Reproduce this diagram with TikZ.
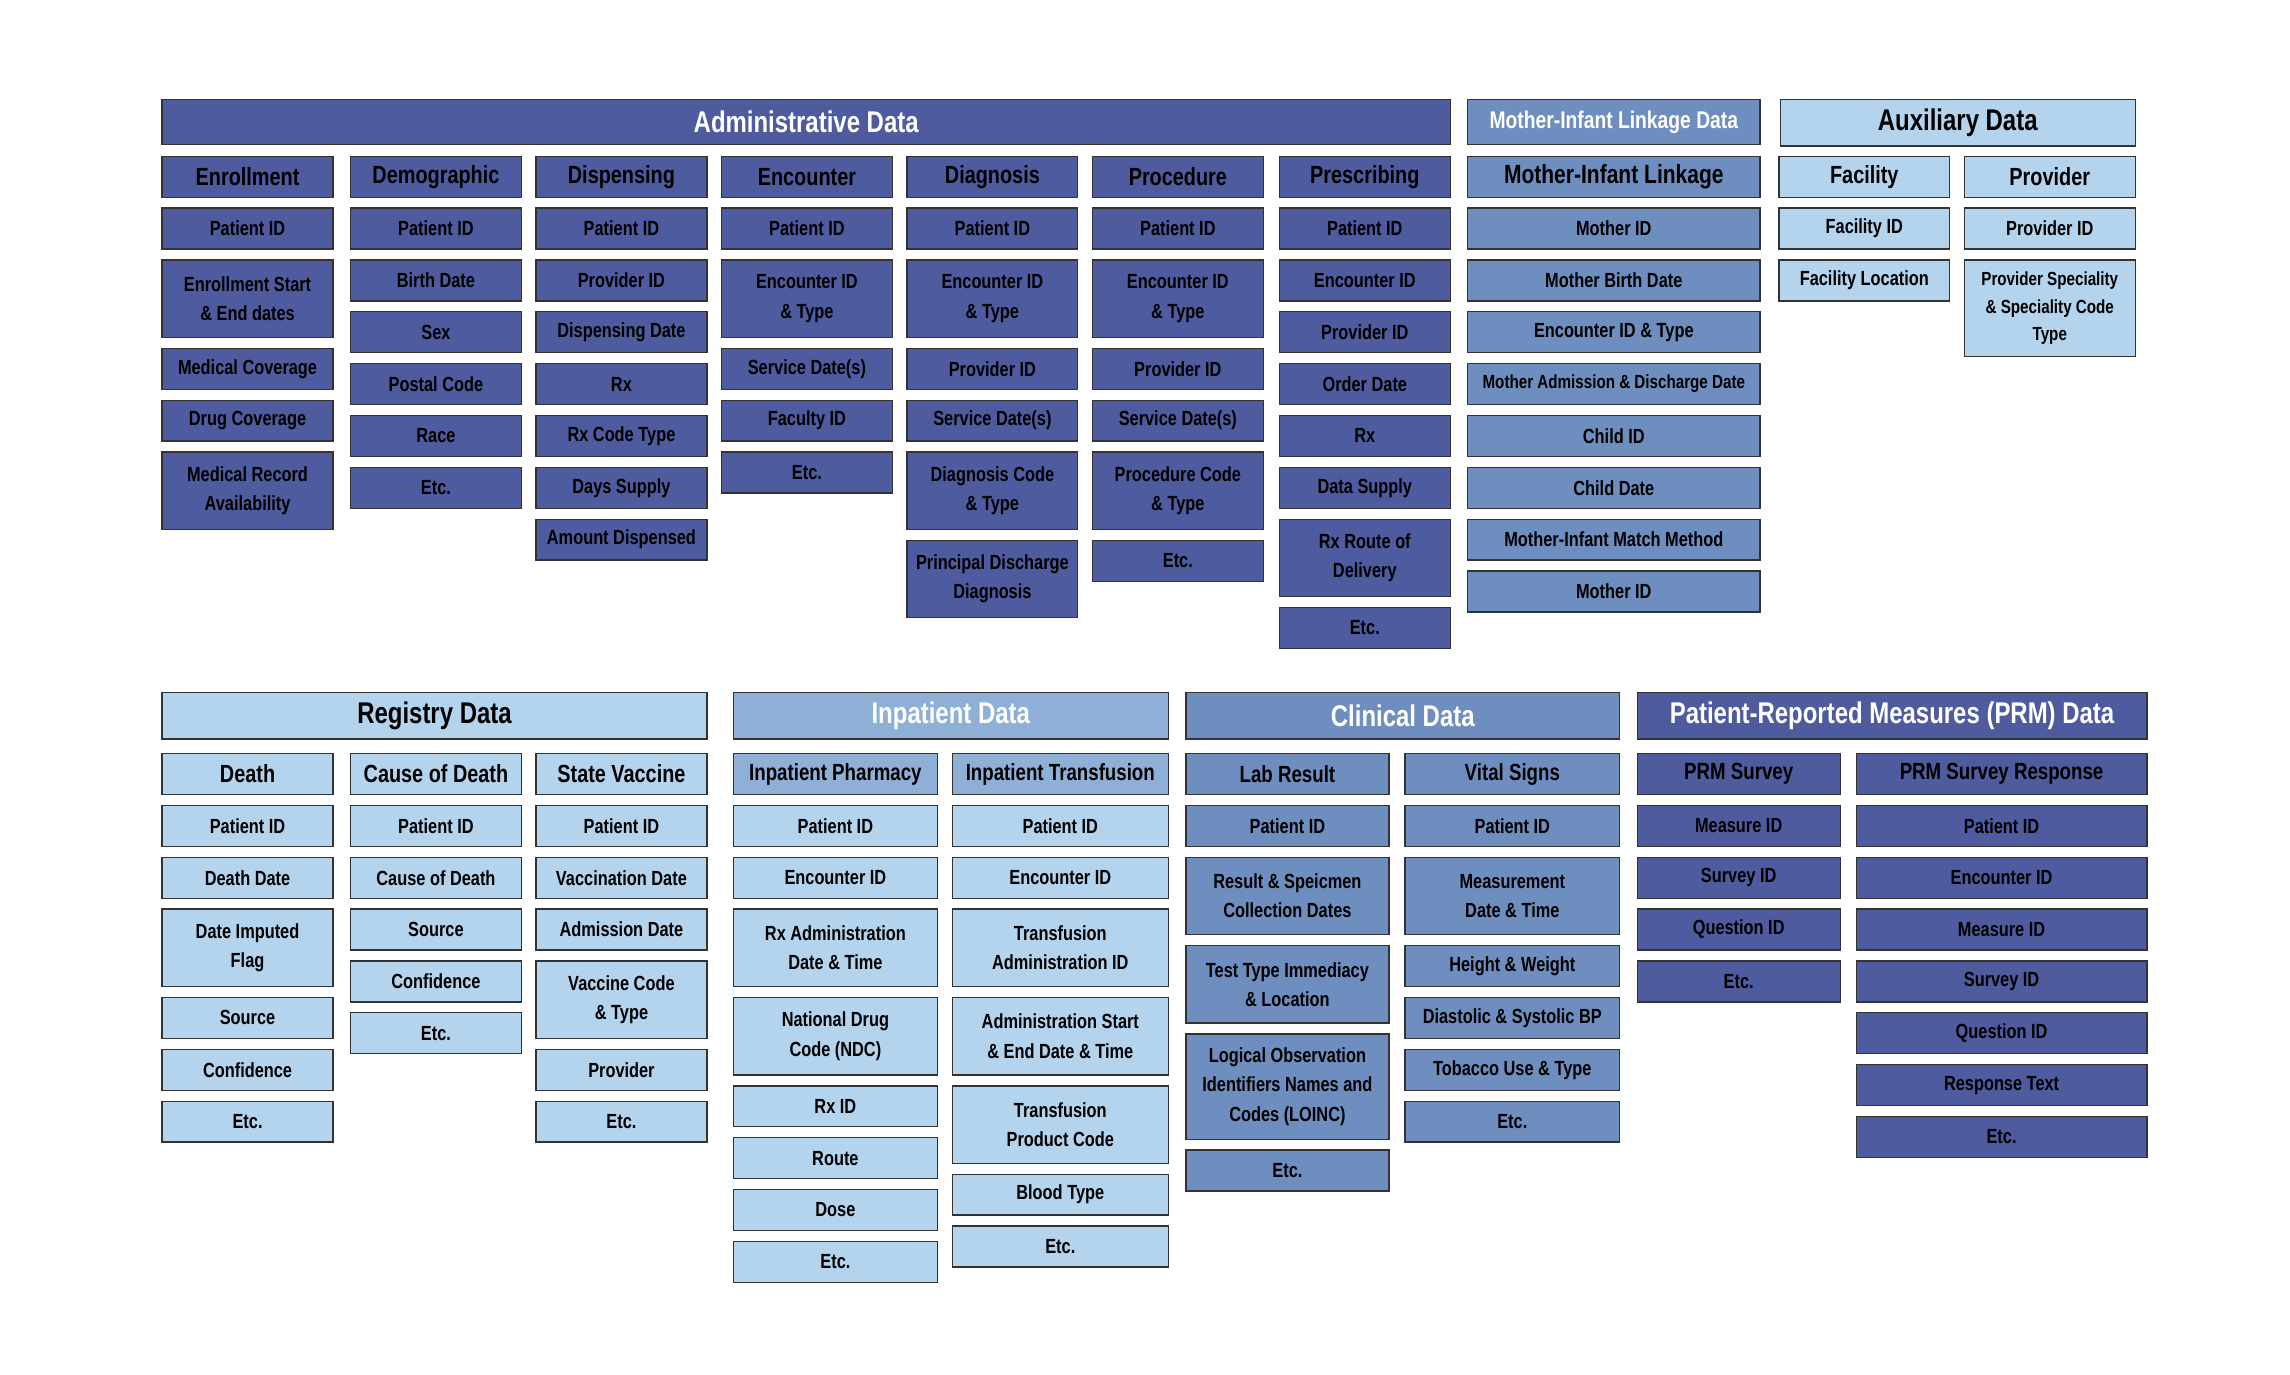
\documentclass[tikz,border=0pt]{standalone}
\usepackage{fontspec}
\newfontfamily\condfont{Liberation Sans}[FakeStretch=0.8]
\usetikzlibrary{positioning}
\usepackage{xcolor}
\definecolor{admblue}{HTML}{4E5B9E}
\definecolor{midblue}{HTML}{6F8EC0}
\definecolor{inpblue}{HTML}{8EB0D7}
\definecolor{ltblue}{HTML}{B4D4EE}

\begin{document}
\begin{tikzpicture}[
    x=1pt, y=-1pt,
    node distance=7.5pt,
    box/.style={draw=black!80, line width=0.9pt, inner sep=0pt, outer sep=0pt,
                minimum height=28pt, align=center, text=black,
                font=\condfont\bfseries\fontsize{14}{20}\selectfont},
    two/.style={minimum height=53pt},
    small/.style={font=\condfont\bfseries\fontsize{13}{19}\selectfont},
    head/.style={box, anchor=north west,
                 font=\condfont\bfseries\fontsize{17}{20}\selectfont},
    subhead/.style={head, font=\condfont\bfseries\fontsize{16}{20}\selectfont},
    bar/.style={box, anchor=north west, minimum height=31pt,
                font=\condfont\bfseries\fontsize{20.5}{24}\selectfont},
    adm/.style={fill=admblue, minimum width=117pt},
    mil/.style={fill=midblue, minimum width=200pt},
    aux/.style={fill=ltblue, minimum width=117pt},
    reg/.style={fill=ltblue, minimum width=117pt}
  ]
  \fill[white] (0,0) rectangle (1568,941);
  \useasboundingbox (0,0) rectangle (1568,941);

  % top banners
  \node (admin) [bar, fill=admblue, text=white, minimum width=882pt] at (111,68) {Administrative Data};
  \node (mild)  [bar, fill=midblue, text=white, minimum width=200pt,
                 font=\condfont\bfseries\fontsize{16.5}{20}\selectfont] at (1005,68) {Mother-Infant Linkage Data};
  \node (auxd)  [bar, fill=ltblue, minimum width=243pt, minimum height=32pt] at (1219,68) {Auxiliary Data};

  % administrative data
  \node (enr)  [head, adm] at (111,107) {Enrollment};
  \node (enr1) [box, adm, below=of enr]       {Patient ID};
  \node (enr2) [box, adm, two, below=of enr1] {Enrollment Start\\\& End dates};
  \node (enr3) [box, adm, below=of enr2]      {Medical Coverage};
  \node (enr4) [box, adm, below=of enr3]      {Drug Coverage};
  \node (enr5) [box, adm, two, below=of enr4] {Medical Record\\Availability};

  \node (dem)  [head, adm] at (240,107) {Demographic};
  \node (dem1) [box, adm, below=of dem]  {Patient ID};
  \node (dem2) [box, adm, below=of dem1] {Birth Date};
  \node (dem3) [box, adm, below=of dem2] {Sex};
  \node (dem4) [box, adm, below=of dem3] {Postal Code};
  \node (dem5) [box, adm, below=of dem4] {Race};
  \node (dem6) [box, adm, below=of dem5] {Etc.};

  \node (dsp)  [head, adm] at (367,107) {Dispensing};
  \node (dsp1) [box, adm, below=of dsp]  {Patient ID};
  \node (dsp2) [box, adm, below=of dsp1] {Provider ID};
  \node (dsp3) [box, adm, below=of dsp2] {Dispensing Date};
  \node (dsp4) [box, adm, below=of dsp3] {Rx};
  \node (dsp5) [box, adm, below=of dsp4] {Rx Code Type};
  \node (dsp6) [box, adm, below=of dsp5] {Days Supply};
  \node (dsp7) [box, adm, below=of dsp6] {Amount Dispensed};

  \node (enc)  [head, adm] at (494,107) {Encounter};
  \node (enc1) [box, adm, below=of enc]       {Patient ID};
  \node (enc2) [box, adm, two, below=of enc1] {Encounter ID\\\& Type};
  \node (enc3) [box, adm, below=of enc2]      {Service Date(s)};
  \node (enc4) [box, adm, below=of enc3]      {Faculty ID};
  \node (enc5) [box, adm, below=of enc4]      {Etc.};

  \node (dia)  [head, adm] at (621,107) {Diagnosis};
  \node (dia1) [box, adm, below=of dia]       {Patient ID};
  \node (dia2) [box, adm, two, below=of dia1] {Encounter ID\\\& Type};
  \node (dia3) [box, adm, below=of dia2]      {Provider ID};
  \node (dia4) [box, adm, below=of dia3]      {Service Date(s)};
  \node (dia5) [box, adm, two, below=of dia4] {Diagnosis Code\\\& Type};
  \node (dia6) [box, adm, two, below=of dia5] {Principal Discharge\\Diagnosis};

  \node (pro)  [head, adm] at (748,107) {Procedure};
  \node (pro1) [box, adm, below=of pro]       {Patient ID};
  \node (pro2) [box, adm, two, below=of pro1] {Encounter ID\\\& Type};
  \node (pro3) [box, adm, below=of pro2]      {Provider ID};
  \node (pro4) [box, adm, below=of pro3]      {Service Date(s)};
  \node (pro5) [box, adm, two, below=of pro4] {Procedure Code\\\& Type};
  \node (pro6) [box, adm, below=of pro5]      {Etc.};

  \node (pre)  [head, adm] at (876,107) {Prescribing};
  \node (pre1) [box, adm, below=of pre]       {Patient ID};
  \node (pre2) [box, adm, below=of pre1]      {Encounter ID};
  \node (pre3) [box, adm, below=of pre2]      {Provider ID};
  \node (pre4) [box, adm, below=of pre3]      {Order Date};
  \node (pre5) [box, adm, below=of pre4]      {Rx};
  \node (pre6) [box, adm, below=of pre5]      {Data Supply};
  \node (pre7) [box, adm, two, below=of pre6] {Rx Route of\\Delivery};
  \node (pre8) [box, adm, below=of pre7]      {Etc.};

  % mother-infant linkage
  \node (mil)  [head, mil, font=\condfont\bfseries\fontsize{18}{20}\selectfont] at (1005,107) {Mother-Infant Linkage};
  \node (mil1) [box, mil, below=of mil]         {Mother ID};
  \node (mil2) [box, mil, below=of mil1]        {Mother Birth Date};
  \node (mil3) [box, mil, below=of mil2]        {Encounter ID \& Type};
  \node (mil4) [box, mil, small, below=of mil3] {Mother Admission \& Discharge Date};
  \node (mil5) [box, mil, below=of mil4]        {Child ID};
  \node (mil6) [box, mil, below=of mil5]        {Child Date};
  \node (mil7) [box, mil, below=of mil6]        {Mother-Infant Match Method};
  \node (mil8) [box, mil, below=of mil7]        {Mother ID};

  % auxiliary data
  \node (fac)  [head, aux] at (1218,107) {Facility};
  \node (fac1) [box, aux, below=of fac]  {Facility ID};
  \node (fac2) [box, aux, below=of fac1] {Facility Location};

  \node (prv)  [head, aux] at (1345,107) {Provider};
  \node (prv1) [box, aux, below=of prv]  {Provider ID};
  \node (prv2) [box, aux, small, minimum height=66pt, below=of prv1] {Provider Speciality\\\& Speciality Code\\Type};

  % registry data
  \node (regd) [bar, fill=ltblue, minimum width=373pt, minimum height=32pt] at (111,474) {Registry Data};

  \node (dth)  [head, reg] at (111,516) {Death};
  \node (dth1) [box, reg, below=of dth]       {Patient ID};
  \node (dth2) [box, reg, below=of dth1]      {Death Date};
  \node (dth3) [box, reg, two, below=of dth2] {Date Imputed\\Flag};
  \node (dth4) [box, reg, below=of dth3]      {Source};
  \node (dth5) [box, reg, below=of dth4]      {Confidence};
  \node (dth6) [box, reg, below=of dth5]      {Etc.};

  \node (cod)  [head, reg] at (240,516) {Cause of Death};
  \node (cod1) [box, reg, below=of cod]  {Patient ID};
  \node (cod2) [box, reg, below=of cod1] {Cause of Death};
  \node (cod3) [box, reg, below=of cod2] {Source};
  \node (cod4) [box, reg, below=of cod3] {Confidence};
  \node (cod5) [box, reg, below=of cod4] {Etc.};

  \node (vac)  [head, reg] at (367,516) {State Vaccine};
  \node (vac1) [box, reg, below=of vac]       {Patient ID};
  \node (vac2) [box, reg, below=of vac1]      {Vaccination Date};
  \node (vac3) [box, reg, below=of vac2]      {Admission Date};
  \node (vac4) [box, reg, two, below=of vac3] {Vaccine Code\\\& Type};
  \node (vac5) [box, reg, below=of vac4]      {Provider};
  \node (vac6) [box, reg, below=of vac5]      {Etc.};

  % inpatient data
  \node (inpd) [bar, fill=inpblue, text=white, minimum width=298pt, minimum height=32pt] at (502,474) {Inpatient Data};

  \node (iph)  [subhead, fill=inpblue, minimum width=140pt] at (502,516) {Inpatient Pharmacy};
  \node (iph1) [box, fill=ltblue, minimum width=140pt, below=of iph]       {Patient ID};
  \node (iph2) [box, fill=ltblue, minimum width=140pt, below=of iph1]      {Encounter ID};
  \node (iph3) [box, fill=ltblue, minimum width=140pt, two, below=of iph2] {Rx Administration\\Date \& Time};
  \node (iph4) [box, fill=ltblue, minimum width=140pt, two, below=of iph3] {National Drug\\Code (NDC)};
  \node (iph5) [box, fill=ltblue, minimum width=140pt, below=of iph4]      {Rx ID};
  \node (iph6) [box, fill=ltblue, minimum width=140pt, below=of iph5]      {Route};
  \node (iph7) [box, fill=ltblue, minimum width=140pt, below=of iph6]      {Dose};
  \node (iph8) [box, fill=ltblue, minimum width=140pt, below=of iph7]      {Etc.};

  \node (itr)  [subhead, fill=inpblue, minimum width=148pt] at (652,516) {Inpatient Transfusion};
  \node (itr1) [box, fill=ltblue, minimum width=148pt, below=of itr]       {Patient ID};
  \node (itr2) [box, fill=ltblue, minimum width=148pt, below=of itr1]      {Encounter ID};
  \node (itr3) [box, fill=ltblue, minimum width=148pt, two, below=of itr2] {Transfusion\\Administration ID};
  \node (itr4) [box, fill=ltblue, minimum width=148pt, two, below=of itr3] {Administration Start\\\& End Date \& Time};
  \node (itr5) [box, fill=ltblue, minimum width=148pt, two, below=of itr4] {Transfusion\\Product Code};
  \node (itr6) [box, fill=ltblue, minimum width=148pt, below=of itr5]      {Blood Type};
  \node (itr7) [box, fill=ltblue, minimum width=148pt, below=of itr6]      {Etc.};

  % clinical data
  \node (clnd) [bar, fill=midblue, text=white, minimum width=297pt, minimum height=32pt] at (812,474) {Clinical Data};

  \node (lab)  [subhead, fill=midblue, minimum width=139pt] at (812,516) {Lab Result};
  \node (lab1) [box, fill=midblue, minimum width=139pt, below=of lab]       {Patient ID};
  \node (lab2) [box, fill=midblue, minimum width=139pt, two, below=of lab1] {Result \& Speicmen\\Collection Dates};
  \node (lab3) [box, fill=midblue, minimum width=139pt, two, below=of lab2] {Test Type Immediacy\\\& Location};
  \node (lab4) [box, fill=midblue, minimum width=139pt, minimum height=72pt, below=of lab3] {Logical Observation\\Identifiers Names and\\Codes (LOINC)};
  \node (lab5) [box, fill=midblue, minimum width=139pt, below=of lab4]      {Etc.};

  \node (vit)  [subhead, fill=midblue, minimum width=147pt] at (962,516) {Vital Signs};
  \node (vit1) [box, fill=midblue, minimum width=147pt, below=of vit]       {Patient ID};
  \node (vit2) [box, fill=midblue, minimum width=147pt, two, below=of vit1] {Measurement\\Date \& Time};
  \node (vit3) [box, fill=midblue, minimum width=147pt, below=of vit2]      {Height \& Weight};
  \node (vit4) [box, fill=midblue, minimum width=147pt, below=of vit3]      {Diastolic \& Systolic BP};
  \node (vit5) [box, fill=midblue, minimum width=147pt, below=of vit4]      {Tobacco Use \& Type};
  \node (vit6) [box, fill=midblue, minimum width=147pt, below=of vit5]      {Etc.};

  % patient-reported measures
  \node (prmd) [bar, fill=admblue, text=white, minimum width=349pt, minimum height=32pt] at (1121,474) {Patient-Reported Measures (PRM) Data};

  \node (srv)  [subhead, fill=admblue, minimum width=139pt] at (1121,516) {PRM Survey};
  \node (srv1) [box, fill=admblue, minimum width=139pt, below=of srv]  {Measure ID};
  \node (srv2) [box, fill=admblue, minimum width=139pt, below=of srv1] {Survey ID};
  \node (srv3) [box, fill=admblue, minimum width=139pt, below=of srv2] {Question ID};
  \node (srv4) [box, fill=admblue, minimum width=139pt, below=of srv3] {Etc.};

  \node (rsp)  [subhead, fill=admblue, minimum width=199pt] at (1271,516) {PRM Survey Response};
  \node (rsp1) [box, fill=admblue, minimum width=199pt, below=of rsp]  {Patient ID};
  \node (rsp2) [box, fill=admblue, minimum width=199pt, below=of rsp1] {Encounter ID};
  \node (rsp3) [box, fill=admblue, minimum width=199pt, below=of rsp2] {Measure ID};
  \node (rsp4) [box, fill=admblue, minimum width=199pt, below=of rsp3] {Survey ID};
  \node (rsp5) [box, fill=admblue, minimum width=199pt, below=of rsp4] {Question ID};
  \node (rsp6) [box, fill=admblue, minimum width=199pt, below=of rsp5] {Response Text};
  \node (rsp7) [box, fill=admblue, minimum width=199pt, below=of rsp6] {Etc.};
\end{tikzpicture}
\end{document}
